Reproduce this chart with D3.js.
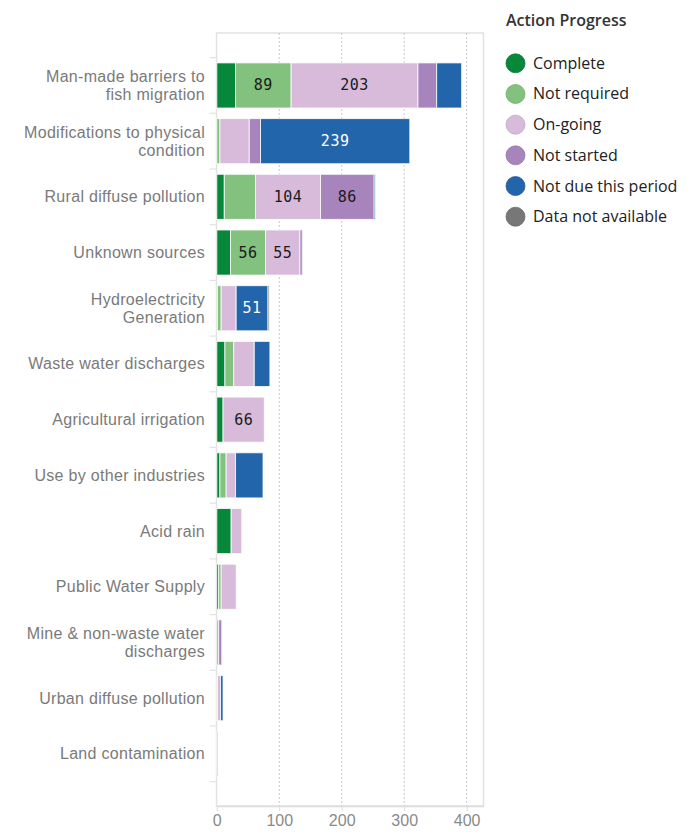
<!DOCTYPE html>
<html>
<head>
<meta charset="utf-8">
<script src="https://cdn.jsdelivr.net/npm/d3@7"></script>
<style>
  html, body { margin: 0; padding: 0; background: #ffffff; }
  svg { display: block; }
</style>
</head>
<body>
<svg id="chart" width="696" height="832"></svg>
<script>
// ---- data ----
const categories = [
  "Man-made barriers to\nfish migration",
  "Modifications to physical\ncondition",
  "Rural diffuse pollution",
  "Unknown sources",
  "Hydroelectricity\nGeneration",
  "Waste water discharges",
  "Agricultural irrigation",
  "Use by other industries",
  "Acid rain",
  "Public Water Supply",
  "Mine & non-waste water\ndischarges",
  "Urban diffuse pollution",
  "Land contamination"
];
const seriesNames = ["Complete", "Not required", "On-going", "Not started", "Not due this period", "Data not available"];
const seriesColors = ["#07873a", "#82c17e", "#d8bada", "#a884bd", "#2265aa", "#777777"];

const complete        = [30,  0, 12, 22, 1, 13, 10, 5, 23, 3, 0, 0, 0];
const notRequired     = [89,  5, 50, 56, 6, 14,  0, 10, 0, 4, 3, 1, 0];
const onGoing         = [203, 47, 104, 55, 24, 33, 66, 15, 17, 24, 0, 5, 2];
const notStarted      = [30, 18, 86, 4, 0, 0, 0, 0, 0, 0, 5, 0, 0];
const notDue          = [40, 239, 2, 0, 51, 25, 0, 44, 0, 0, 0, 4, 0];
const dataNotAvail    = [0,  0, 0, 1, 2, 0, 0, 0, 0, 0, 0, 0, 0];
const seriesValues = [complete, notRequired, onGoing, notStarted, notDue, dataNotAvail];

const xTicks = [0, 100, 200, 300, 400];
const xMax = 427;
const legendTitle = "Action Progress";

// ---- layout ----
const svg = d3.select("#chart");
const plot = { left: 216.5, right: 483.5, top: 33, bottom: 806 };
const labelFont = "'Liberation Sans', Arimo, Arial, Helvetica, sans-serif";

const x = d3.scaleLinear().domain([0, xMax]).range([plot.left + 0.3, plot.right]);
const y = d3.scaleBand().domain(categories).range([57.6, 781.7]).paddingInner(0.19).paddingOuter(0.095);

// frame
svg.append("rect")
  .attr("x", plot.left).attr("y", plot.top)
  .attr("width", plot.right - plot.left).attr("height", plot.bottom - plot.top)
  .attr("fill", "none").attr("stroke", "#e2e2e2").attr("stroke-width", 1.5);

// gridlines
svg.append("g").selectAll("line").data(xTicks.filter(t => t > 0)).join("line")
  .attr("x1", d => x(d)).attr("x2", d => x(d))
  .attr("y1", plot.top).attr("y2", plot.bottom)
  .attr("stroke", "#c8c8c8").attr("stroke-width", 1).attr("stroke-dasharray", "2,2");

// x axis
const xAxis = svg.append("g").attr("transform", `translate(0,${plot.bottom})`)
  .call(d3.axisBottom(x).tickValues(xTicks).tickSize(5).tickPadding(4).tickSizeOuter(0));
xAxis.select(".domain").attr("stroke", "#dcdcdc").attr("stroke-width", 1.5);
xAxis.selectAll(".tick line").attr("stroke", "#dcdcdc");
xAxis.selectAll(".tick text").attr("fill", "#8a8a8a")
  .style("font-family", labelFont).style("font-size", "16px");

// y axis separators (band boundaries)
const bounds = d3.range(categories.length + 1).map(i => y.range()[0] + i * y.step());
svg.append("g").selectAll("line").data(bounds).join("line")
  .attr("x1", plot.left - 7).attr("x2", plot.left)
  .attr("y1", d => d).attr("y2", d => d)
  .attr("stroke", "#e2e2e2").attr("stroke-width", 1.2);

// category labels
const labG = svg.append("g")
  .style("font-family", labelFont).style("font-size", "16px")
  .style("letter-spacing", "0.3px")
  .attr("fill", "#7a7a7a");
categories.forEach(c => {
  const lines = c.split("\n");
  const cy = y(c) + y.bandwidth() / 2;
  const lh = 18;
  const t = labG.append("text").attr("text-anchor", "end");
  lines.forEach((ln, i) => {
    t.append("tspan").attr("x", 205)
      .attr("y", cy + 5.5 + (i - (lines.length - 1) / 2) * lh)
      .text(ln);
  });
});

// stacked bars
const rows = categories.map((c, i) => {
  const o = { cat: c };
  seriesNames.forEach((s, j) => o[s] = seriesValues[j][i]);
  return o;
});
const stack = d3.stack().keys(seriesNames)(rows);
const color = d3.scaleOrdinal().domain(seriesNames).range(seriesColors);

const barG = svg.append("g");
stack.forEach(layer => {
  const g = barG.append("g");
  layer.forEach(seg => {
    const v = seg[1] - seg[0];
    if (v <= 0) return;
    g.append("rect")
      .attr("x", x(seg[0])).attr("y", y(seg.data.cat))
      .attr("width", Math.max(0, x(seg[1]) - x(seg[0])))
      .attr("height", y.bandwidth())
      .attr("fill", color(layer.key))
      .attr("stroke", "#ffffff").attr("stroke-width", 1).attr("stroke-opacity", 0.8);
    if (v > 50) {
      g.append("text")
        .attr("x", (x(seg[0]) + x(seg[1])) / 2)
        .attr("y", y(seg.data.cat) + y.bandwidth() / 2 + 5)
        .attr("text-anchor", "middle")
        .style("font-family", "'DejaVu Sans Mono', monospace").style("font-size", "15px")
        .style("letter-spacing", "0.5px")
        .attr("fill", layer.key === "Not due this period" ? "#ffffff" : "#1a1a1a")
        .text(v);
    }
  });
});

// legend
const leg = svg.append("g");
leg.append("text").attr("x", 506).attr("y", 26)
  .style("font-family", "'Open Sans', sans-serif").style("font-size", "16px").style("font-weight", "600")
  .attr("fill", "#333").text(legendTitle);
const ly = d3.scalePoint().domain(seriesNames).range([63.3, 216.7]);
seriesNames.forEach(s => {
  leg.append("circle").attr("cx", 515.5).attr("cy", ly(s)).attr("r", 9.5)
    .attr("fill", color(s)).attr("stroke", d3.color(color(s)).darker(0.3)).attr("stroke-width", 0.8);
  leg.append("text").attr("x", 533).attr("y", ly(s) + 5.5)
    .style("font-family", "'Open Sans', sans-serif").style("font-size", "16px")
    .attr("fill", "#222").text(s);
});
</script>
</body>
</html>
